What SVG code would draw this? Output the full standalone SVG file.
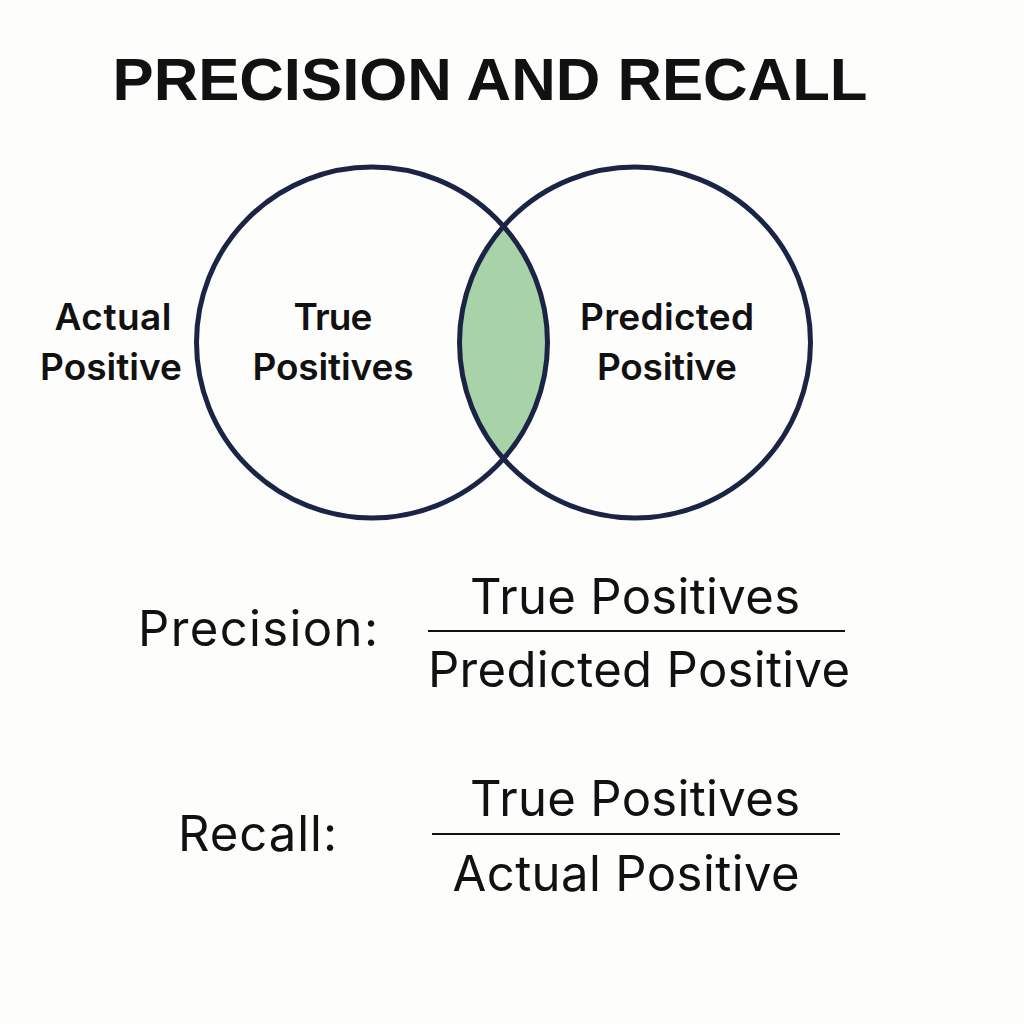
<svg xmlns="http://www.w3.org/2000/svg" width="1024" height="1024" viewBox="0 0 1024 1024">
<style>
.circ{fill:none;stroke:#1b2445;stroke-width:5}
.title{font-family:"Liberation Sans",Arial,sans-serif;font-weight:bold;font-size:60px;fill:#111}
.lbl{font-family:Inter,"Noto Sans",sans-serif;font-weight:600;font-size:37px;fill:#111;text-anchor:middle}
.f{font-family:Inter,"Noto Sans",sans-serif;font-size:49px;fill:#111}
.fm{text-anchor:middle}
.bar{stroke:#111;stroke-width:2}
</style>
<defs>
<clipPath id="clipL"><circle cx="372" cy="342.5" r="175.5"/></clipPath>
</defs>
<rect width="1024" height="1024" fill="#fdfdfb"/>
<text class="title" x="490" y="100" text-anchor="middle" textLength="755" lengthAdjust="spacingAndGlyphs">PRECISION AND RECALL</text>
<g id="intersection">
<circle cx="635" cy="342.5" r="175.5" fill="#a8d3a8" clip-path="url(#clipL)"/>
</g>
<g id="actual-circle">
<circle class="circ" cx="372" cy="342.5" r="175.5"/>
</g>
<g id="predicted-circle">
<circle class="circ" cx="635" cy="342.5" r="175.5"/>
</g>
<g id="label-actual">
<text class="lbl" x="113" y="330" textLength="117">Actual</text>
<text class="lbl" x="111" y="380" textLength="142">Positive</text>
</g>
<g id="label-true">
<text class="lbl" x="333" y="330" textLength="79">True</text>
<text class="lbl" x="333" y="380" textLength="161">Positives</text>
</g>
<g id="label-predicted">
<text class="lbl" x="667" y="330" textLength="174">Predicted</text>
<text class="lbl" x="667" y="380" textLength="140">Positive</text>
</g>
<g id="precision">
<text class="f" x="138" y="646" textLength="240">Precision:</text>
<text class="f fm" x="635" y="614" textLength="330">True Positives</text>
<line class="bar" x1="428" y1="631" x2="845" y2="631"/>
<text class="f fm" x="639" y="687" textLength="422">Predicted Positive</text>
</g>
<g id="recall">
<text class="f" x="178" y="851" textLength="159">Recall:</text>
<text class="f fm" x="635" y="816" textLength="330">True Positives</text>
<line class="bar" x1="432" y1="834" x2="840" y2="834"/>
<text class="f fm" x="626" y="891" textLength="347">Actual Positive</text>
</g>
</svg>
